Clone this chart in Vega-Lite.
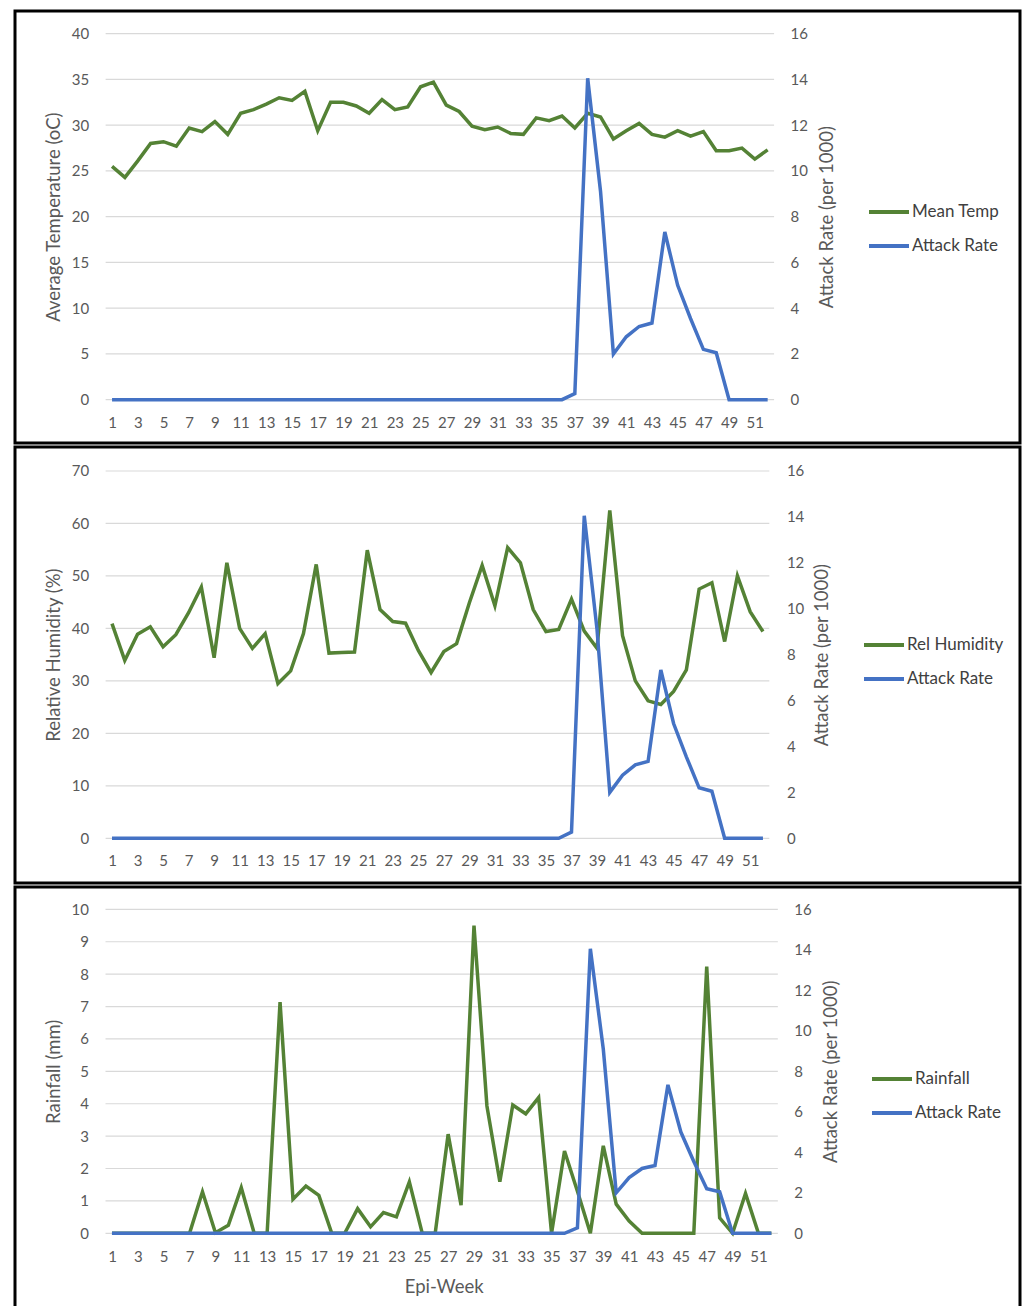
{
  "$schema": "https://vega.github.io/schema/vega-lite/v6.json",
  "padding": {"left": 13, "top": 9, "right": 0, "bottom": 0},
  "config": {
    "font": "Lato",
    "view": {"stroke": "#000000", "strokeWidth": 3},
    "concat": {"spacing": 0},
    "axis": {"labelFont": "Lato", "labelFontSize": 15, "labelColor": "#595959", "titleFont": "Lato", "titleFontSize": 18.5, "titleFontWeight": "normal", "titleColor": "#595959", "ticks": false, "domain": false, "grid": false},
    "legend": {"labelFont": "Lato", "labelFontSize": 17, "labelColor": "#404040", "symbolType": "stroke", "symbolStrokeWidth": 4, "symbolSize": 1600, "padding": 0, "labelOffset": 1, "rowPadding": 4}
  },
  "datasets": {
    "weeks": [
      {"week": 1, "temp": 25.5, "humidity": 40.9, "rainfall": 0, "attack": 0},
      {"week": 2, "temp": 24.3, "humidity": 33.9, "rainfall": 0, "attack": 0},
      {"week": 3, "temp": 26.1, "humidity": 38.9, "rainfall": 0, "attack": 0},
      {"week": 4, "temp": 28.0, "humidity": 40.3, "rainfall": 0, "attack": 0},
      {"week": 5, "temp": 28.2, "humidity": 36.5, "rainfall": 0, "attack": 0},
      {"week": 6, "temp": 27.7, "humidity": 38.8, "rainfall": 0, "attack": 0},
      {"week": 7, "temp": 29.7, "humidity": 43.0, "rainfall": 0, "attack": 0},
      {"week": 8, "temp": 29.3, "humidity": 47.9, "rainfall": 1.28, "attack": 0},
      {"week": 9, "temp": 30.4, "humidity": 34.4, "rainfall": 0.02, "attack": 0},
      {"week": 10, "temp": 29.0, "humidity": 52.5, "rainfall": 0.25, "attack": 0},
      {"week": 11, "temp": 31.3, "humidity": 40.0, "rainfall": 1.41, "attack": 0},
      {"week": 12, "temp": 31.7, "humidity": 36.2, "rainfall": 0, "attack": 0},
      {"week": 13, "temp": 32.3, "humidity": 39.0, "rainfall": 0, "attack": 0},
      {"week": 14, "temp": 33.0, "humidity": 29.5, "rainfall": 7.14, "attack": 0},
      {"week": 15, "temp": 32.7, "humidity": 31.9, "rainfall": 1.05, "attack": 0},
      {"week": 16, "temp": 33.7, "humidity": 39.0, "rainfall": 1.46, "attack": 0},
      {"week": 17, "temp": 29.4, "humidity": 52.2, "rainfall": 1.17, "attack": 0},
      {"week": 18, "temp": 32.5, "humidity": 35.3, "rainfall": 0, "attack": 0},
      {"week": 19, "temp": 32.5, "humidity": 35.4, "rainfall": 0, "attack": 0},
      {"week": 20, "temp": 32.1, "humidity": 35.5, "rainfall": 0.76, "attack": 0},
      {"week": 21, "temp": 31.3, "humidity": 54.9, "rainfall": 0.2, "attack": 0},
      {"week": 22, "temp": 32.8, "humidity": 43.6, "rainfall": 0.64, "attack": 0},
      {"week": 23, "temp": 31.7, "humidity": 41.3, "rainfall": 0.51, "attack": 0},
      {"week": 24, "temp": 32.0, "humidity": 41.0, "rainfall": 1.59, "attack": 0},
      {"week": 25, "temp": 34.2, "humidity": 35.8, "rainfall": 0, "attack": 0},
      {"week": 26, "temp": 34.7, "humidity": 31.6, "rainfall": 0, "attack": 0},
      {"week": 27, "temp": 32.2, "humidity": 35.6, "rainfall": 3.06, "attack": 0},
      {"week": 28, "temp": 31.5, "humidity": 37.1, "rainfall": 0.87, "attack": 0},
      {"week": 29, "temp": 29.9, "humidity": 44.9, "rainfall": 9.5, "attack": 0},
      {"week": 30, "temp": 29.5, "humidity": 52.0, "rainfall": 3.93, "attack": 0},
      {"week": 31, "temp": 29.8, "humidity": 44.3, "rainfall": 1.59, "attack": 0},
      {"week": 32, "temp": 29.1, "humidity": 55.4, "rainfall": 3.96, "attack": 0},
      {"week": 33, "temp": 29.0, "humidity": 52.5, "rainfall": 3.69, "attack": 0},
      {"week": 34, "temp": 30.8, "humidity": 43.6, "rainfall": 4.19, "attack": 0},
      {"week": 35, "temp": 30.5, "humidity": 39.4, "rainfall": 0, "attack": 0},
      {"week": 36, "temp": 31.0, "humidity": 39.8, "rainfall": 2.54, "attack": 0},
      {"week": 37, "temp": 29.7, "humidity": 45.6, "rainfall": 1.3, "attack": 0.27},
      {"week": 38, "temp": 31.3, "humidity": 39.5, "rainfall": 0, "attack": 14.05},
      {"week": 39, "temp": 30.9, "humidity": 36.2, "rainfall": 2.7, "attack": 9.1},
      {"week": 40, "temp": 28.5, "humidity": 62.5, "rainfall": 0.9, "attack": 2.0},
      {"week": 41, "temp": 29.4, "humidity": 38.6, "rainfall": 0.38, "attack": 2.75},
      {"week": 42, "temp": 30.2, "humidity": 30.0, "rainfall": 0, "attack": 3.2},
      {"week": 43, "temp": 29.0, "humidity": 26.2, "rainfall": 0, "attack": 3.35},
      {"week": 44, "temp": 28.7, "humidity": 25.5, "rainfall": 0, "attack": 7.33},
      {"week": 45, "temp": 29.4, "humidity": 28.0, "rainfall": 0, "attack": 5.0},
      {"week": 46, "temp": 28.8, "humidity": 32.1, "rainfall": 0, "attack": 3.55},
      {"week": 47, "temp": 29.3, "humidity": 47.5, "rainfall": 8.23, "attack": 2.2},
      {"week": 48, "temp": 27.2, "humidity": 48.7, "rainfall": 0.48, "attack": 2.05},
      {"week": 49, "temp": 27.2, "humidity": 37.5, "rainfall": 0, "attack": 0},
      {"week": 50, "temp": 27.5, "humidity": 50.0, "rainfall": 1.23, "attack": 0},
      {"week": 51, "temp": 26.3, "humidity": 43.2, "rainfall": 0, "attack": 0},
      {"week": 52, "temp": 27.3, "humidity": 39.4, "rainfall": 0, "attack": 0}
    ],
    "g1": [{"g": 0}, {"g": 5}, {"g": 10}, {"g": 15}, {"g": 20}, {"g": 25}, {"g": 30}, {"g": 35}, {"g": 40}],
    "g2": [{"g": 0}, {"g": 10}, {"g": 20}, {"g": 30}, {"g": 40}, {"g": 50}, {"g": 60}, {"g": 70}],
    "g3": [{"g": 0}, {"g": 1}, {"g": 2}, {"g": 3}, {"g": 4}, {"g": 5}, {"g": 6}, {"g": 7}, {"g": 8}, {"g": 9}, {"g": 10}]
  },
  "resolve": {"scale": {"x": "independent", "y": "independent", "color": "independent"}, "legend": {"color": "independent"}},
  "vconcat": [
    {
      "width": 1005, "height": 432,
      "resolve": {"scale": {"y": "independent"}},
      "layer": [
        {"layer": [
          {"data": {"name": "g1"}, "mark": {"type": "rule", "color": "#D9D9D9", "strokeWidth": 1.2},
           "encoding": {
             "x": {"datum": 0.5, "type": "quantitative", "scale": {"domain": [-6.55, 71.63], "nice": false, "zero": false}, "axis": {"orient": "bottom", "offset": -43.3, "values": [1,3,5,7,9,11,13,15,17,19,21,23,25,27,29,31,33,35,37,39,41,43,45,47,49,51], "labelBaseline": "middle", "labelPadding": 23, "title": null}},
             "x2": {"datum": 52.5},
             "y": {"field": "g", "type": "quantitative", "scale": {"domain": [-4.73, 42.48], "nice": false, "zero": false}, "axis": {"orient": "left", "offset": -90.6, "values": [0,5,10,15,20,25,30,35,40], "labelPadding": 17, "title": "Average Temperature (oC)", "titleX": -52, "titleY": 205.7, "titleAngle": -90, "titleAlign": "center", "titleBaseline": "middle"}}
           }},
          {"data": {"name": "weeks"}, "mark": {"type": "line", "strokeWidth": 3.5},
           "encoding": {
             "x": {"field": "week", "type": "quantitative"},
             "y": {"field": "temp", "type": "quantitative"},
             "color": {"datum": "Mean Temp", "type": "nominal", "scale": {"domain": ["Mean Temp", "Attack Rate"], "range": ["#548235", "#4472C4"]}, "legend": {"orient": "none", "legendX": 852, "legendY": 179, "title": null}}
           }}
        ]},
        {"data": {"name": "weeks"}, "mark": {"type": "line", "strokeWidth": 3.5},
         "encoding": {
           "x": {"field": "week", "type": "quantitative"},
           "y": {"field": "attack", "type": "quantitative", "scale": {"domain": [-1.893, 16.99], "nice": false, "zero": false}, "axis": {"orient": "right", "offset": -246, "values": [0,2,4,6,8,10,12,14,16], "labelPadding": 16, "title": "Attack Rate (per 1000)", "titleX": 52, "titleY": 205.7, "titleAngle": -90, "titleAlign": "center", "titleBaseline": "middle"}},
           "color": {"datum": "Attack Rate", "type": "nominal"}
         }}
      ]
    },
    {
      "width": 1005, "height": 436,
      "resolve": {"scale": {"y": "independent"}},
      "layer": [
        {"layer": [
          {"data": {"name": "g2"}, "mark": {"type": "rule", "color": "#D9D9D9", "strokeWidth": 1.2},
           "encoding": {
             "x": {"datum": 0.5, "type": "quantitative", "scale": {"domain": [-6.6, 72.14], "nice": false, "zero": false}, "axis": {"orient": "bottom", "offset": -44.7, "values": [1,3,5,7,9,11,13,15,17,19,21,23,25,27,29,31,33,35,37,39,41,43,45,47,49,51], "labelBaseline": "middle", "labelPadding": 22, "title": null}},
             "x2": {"datum": 52.5},
             "y": {"field": "g", "type": "quantitative", "scale": {"domain": [-8.52, 74.57], "nice": false, "zero": false}, "axis": {"orient": "left", "offset": -90.6, "values": [0,10,20,30,40,50,60,70], "labelPadding": 17, "title": "Relative Humidity (%)", "titleX": -52, "titleY": 207.7, "titleAngle": -90, "titleAlign": "center", "titleBaseline": "middle"}}
           }},
          {"data": {"name": "weeks"}, "mark": {"type": "line", "strokeWidth": 3.5},
           "encoding": {
             "x": {"field": "week", "type": "quantitative"},
             "y": {"field": "humidity", "type": "quantitative"},
             "color": {"datum": "Rel Humidity", "type": "nominal", "scale": {"domain": ["Rel Humidity", "Attack Rate"], "range": ["#548235", "#4472C4"]}, "legend": {"orient": "none", "legendX": 847, "legendY": 176, "title": null}}
           }}
        ]},
        {"data": {"name": "weeks"}, "mark": {"type": "line", "strokeWidth": 3.5},
         "encoding": {
           "x": {"field": "week", "type": "quantitative"},
           "y": {"field": "attack", "type": "quantitative", "scale": {"domain": [-1.947, 17.045], "nice": false, "zero": false}, "axis": {"orient": "right", "offset": -250.6, "values": [0,2,4,6,8,10,12,14,16], "labelPadding": 17, "title": "Attack Rate (per 1000)", "titleX": 52, "titleY": 207.7, "titleAngle": -90, "titleAlign": "center", "titleBaseline": "middle"}},
           "color": {"datum": "Attack Rate", "type": "nominal"}
         }}
      ]
    },
    {
      "width": 1005, "height": 432,
      "resolve": {"scale": {"y": "independent"}},
      "layer": [
        {"layer": [
          {"data": {"name": "g3"}, "mark": {"type": "rule", "color": "#D9D9D9", "strokeWidth": 1.2},
           "encoding": {
             "x": {"datum": 0.5, "type": "quantitative", "scale": {"domain": [-6.5, 71.23], "nice": false, "zero": false}, "axis": {"orient": "bottom", "offset": -85.7, "values": [1,3,5,7,9,11,13,15,17,19,21,23,25,27,29,31,33,35,37,39,41,43,45,47,49,51], "labelBaseline": "middle", "labelPadding": 23, "title": "Epi-Week", "titleFontSize": 18.5, "titleX": 428.7, "titleY": 52.7, "titleAlign": "center", "titleBaseline": "middle"}},
             "x2": {"datum": 52.5},
             "y": {"field": "g", "type": "quantitative", "scale": {"domain": [-2.645, 10.69], "nice": false, "zero": false}, "axis": {"orient": "left", "offset": -90.5, "values": [0,1,2,3,4,5,6,7,8,9,10], "labelPadding": 17, "title": "Rainfall (mm)", "titleX": -52, "titleY": 184.3, "titleAngle": -90, "titleAlign": "center", "titleBaseline": "middle"}}
           }},
          {"data": {"name": "weeks"}, "mark": {"type": "line", "strokeWidth": 3.5},
           "encoding": {
             "x": {"field": "week", "type": "quantitative"},
             "y": {"field": "rainfall", "type": "quantitative"},
             "color": {"datum": "Rainfall", "type": "nominal", "scale": {"domain": ["Rainfall", "Attack Rate"], "range": ["#548235", "#4472C4"]}, "legend": {"orient": "none", "legendX": 855, "legendY": 170, "title": null}}
           }}
        ]},
        {"data": {"name": "weeks"}, "mark": {"type": "line", "strokeWidth": 3.5},
         "encoding": {
           "x": {"field": "week", "type": "quantitative"},
           "y": {"field": "attack", "type": "quantitative", "scale": {"domain": [-4.232, 17.1], "nice": false, "zero": false}, "axis": {"orient": "right", "offset": -242.2, "values": [0,2,4,6,8,10,12,14,16], "labelPadding": 16, "title": "Attack Rate (per 1000)", "titleX": 52.5, "titleY": 184.3, "titleAngle": -90, "titleAlign": "center", "titleBaseline": "middle"}},
           "color": {"datum": "Attack Rate", "type": "nominal"}
         }}
      ]
    }
  ]
}
